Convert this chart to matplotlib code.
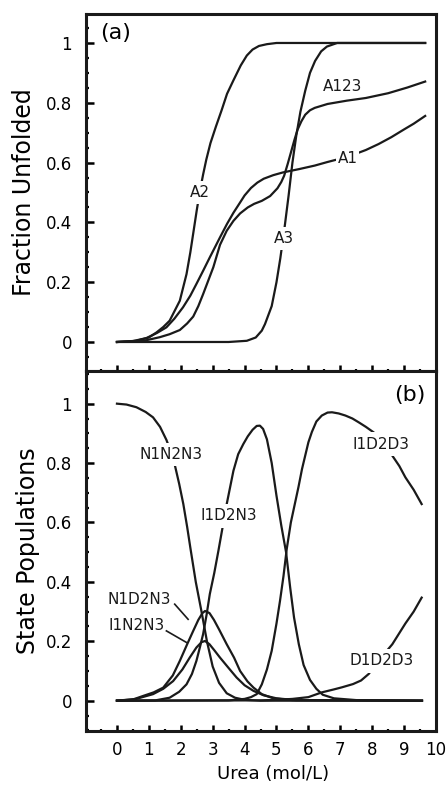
import numpy as np
import matplotlib
matplotlib.use('Agg')
import matplotlib.pyplot as plt
from matplotlib.ticker import MultipleLocator, FuncFormatter

plt.rcParams['font.family'] = ['DejaVu Sans']

# ---- panel (a): fraction unfolded ----
a2_x = [0, 0.61, 1.0, 1.24, 1.45, 1.65, 1.97, 2.18, 2.3, 2.4, 2.5, 2.6, 2.7, 2.8, 2.93, 3.1, 3.28, 3.45, 3.65, 3.88,
        4.07, 4.25, 4.45, 4.7, 5.0, 9.66]
a2_y = [0, 0.004, 0.015, 0.032, 0.05, 0.071, 0.138, 0.227, 0.3, 0.37, 0.44, 0.505, 0.56, 0.61, 0.665, 0.72, 0.775,
        0.83, 0.875, 0.925, 0.958, 0.978, 0.99, 0.996, 1.0, 1.0]

a1_x = [0, 0.5, 0.92, 1.25, 1.55, 1.8, 2.07, 2.3, 2.49, 2.7, 2.91, 3.23, 3.45, 3.65, 3.85, 4.0, 4.2, 4.4, 4.6, 4.9,
        5.2, 5.7, 6.2, 6.6, 7.0, 7.4, 7.8, 8.2, 8.6, 9.0, 9.3, 9.66]
a1_y = [0, 0.003, 0.013, 0.03, 0.049, 0.078, 0.116, 0.155, 0.194, 0.238, 0.283, 0.35, 0.395, 0.432, 0.465, 0.49, 0.515,
        0.533, 0.546, 0.558, 0.567, 0.578, 0.59, 0.602, 0.613, 0.626, 0.642, 0.662, 0.685, 0.711, 0.73, 0.756]

a123_x = [0, 0.8, 1.34, 1.65, 1.97, 2.2, 2.39, 2.55, 2.70, 2.86, 3.02, 3.23, 3.44, 3.65, 3.86, 4.1, 4.3, 4.54, 4.8,
          5.03, 5.15, 5.24, 5.35, 5.45, 5.56, 5.66, 5.78, 5.9, 6.05, 6.2, 6.6, 7.2, 7.8, 8.5, 9.1, 9.66]
a123_y = [0, 0.003, 0.016, 0.026, 0.04, 0.062, 0.085, 0.12, 0.16, 0.205, 0.25, 0.325, 0.372, 0.405, 0.43, 0.45, 0.462,
          0.472, 0.488, 0.514, 0.535, 0.556, 0.595, 0.633, 0.675, 0.71, 0.738, 0.76, 0.775, 0.783, 0.796, 0.807, 0.816,
          0.832, 0.851, 0.871]

a3_x = [0, 3.5, 4.07, 4.35, 4.54, 4.64, 4.85, 5.0, 5.12, 5.25, 5.38, 5.5, 5.62, 5.75, 5.9, 6.05, 6.21, 6.4, 6.58, 6.9, 9.66]
a3_y = [0, 0, 0.004, 0.015, 0.038, 0.06, 0.12, 0.2, 0.28, 0.38, 0.49, 0.6, 0.69, 0.77, 0.84, 0.9, 0.94, 0.972, 0.988, 1.0, 1.0]

# ---- panel (b): state populations ----
n1n2n3_x = [0, 0.3, 0.61, 0.9, 1.13, 1.35, 1.55, 1.7, 1.81, 1.95, 2.08, 2.2, 2.3, 2.47, 2.65, 2.82, 3.0, 3.2, 3.44,
            3.7, 4.0, 4.5, 9.56]
n1n2n3_y = [1.0, 0.997, 0.988, 0.972, 0.954, 0.922, 0.878, 0.835, 0.795, 0.73, 0.662, 0.585, 0.515, 0.4, 0.3, 0.2,
            0.115, 0.06, 0.025, 0.01, 0.003, 0, 0]

i1d2n3_x = [0, 1.2, 1.65, 1.95, 2.18, 2.35, 2.49, 2.6, 2.70, 2.81, 2.91, 3.05, 3.18, 3.44, 3.65, 3.8, 3.96, 4.1, 4.25,
            4.38, 4.48, 4.58, 4.7, 4.85, 5.0, 5.15, 5.3, 5.43, 5.55, 5.7, 5.85, 6.05, 6.25, 6.45, 6.8, 7.5, 9.56]
i1d2n3_y = [0, 0.001, 0.01, 0.03, 0.055, 0.09, 0.134, 0.18, 0.224, 0.29, 0.359, 0.43, 0.505, 0.662, 0.774, 0.83, 0.864,
            0.89, 0.912, 0.925, 0.926, 0.915, 0.88, 0.8, 0.69, 0.59, 0.5, 0.38, 0.28, 0.19, 0.12, 0.07, 0.04, 0.02,
            0.008, 0.002, 0]

n1d2n3_x = [0, 0.5, 0.82, 1.15, 1.45, 1.75, 1.97, 2.2, 2.39, 2.55, 2.68, 2.76, 2.9, 3.04, 3.2, 3.44, 3.67, 3.86, 4.09,
            4.28, 4.54, 4.9, 5.5, 9.56]
n1d2n3_y = [0, 0.004, 0.016, 0.028, 0.044, 0.085, 0.134, 0.19, 0.235, 0.272, 0.295, 0.302, 0.295, 0.272, 0.24, 0.19,
            0.145, 0.10, 0.065, 0.044, 0.022, 0.008, 0.002, 0]

i1n2n3_x = [0, 0.6, 1.13, 1.45, 1.76, 2.05, 2.28, 2.49, 2.65, 2.76, 2.9, 3.05, 3.23, 3.5, 3.75, 4.0, 4.28, 4.6, 5.0,
            5.6, 9.56]
i1n2n3_y = [0, 0.006, 0.022, 0.04, 0.066, 0.105, 0.145, 0.179, 0.197, 0.201, 0.19, 0.17, 0.145, 0.11, 0.078, 0.052,
            0.033, 0.018, 0.008, 0.002, 0]

i1d2d3_x = [0, 3.5, 4.0, 4.2, 4.38, 4.54, 4.7, 4.85, 5.0, 5.11, 5.22, 5.32, 5.45, 5.57, 5.69, 5.8, 5.9, 6.0, 6.11,
            6.25, 6.42, 6.6, 6.74, 6.95, 7.16, 7.38, 7.58, 7.8, 8.05, 8.3, 8.63, 8.85, 9.04, 9.3, 9.55]
i1d2d3_y = [0, 0.001, 0.006, 0.012, 0.022, 0.055, 0.105, 0.168, 0.26, 0.336, 0.42, 0.51, 0.6, 0.66, 0.72, 0.78, 0.825,
            0.87, 0.905, 0.94, 0.96, 0.97, 0.971, 0.967, 0.96, 0.95, 0.937, 0.922, 0.903, 0.87, 0.825, 0.79, 0.752,
            0.71, 0.662]

d1d2d3_x = [0, 4.5, 5.0, 5.5, 6.0, 6.42, 6.8, 7.05, 7.4, 7.65, 7.89, 8.2, 8.63, 9.04, 9.3, 9.55]
d1d2d3_y = [0, 0.001, 0.003, 0.006, 0.012, 0.028, 0.038, 0.045, 0.056, 0.068, 0.09, 0.135, 0.19, 0.26, 0.3, 0.347]

x_ticks = [0, 1, 2, 3, 4, 5, 6, 7, 8, 9, 10]
y_ticks = [0, 0.2, 0.4, 0.6, 0.8, 1]

fig = plt.figure(figsize=(4.48, 7.85), dpi=100)
ax_a = fig.add_axes([0.1920, 0.5274, 0.78125, 0.4548])
ax_b = fig.add_axes([0.1920, 0.0688, 0.78125, 0.4586])

lw = 1.6
for xs, ys in [(a2_x, a2_y), (a1_x, a1_y), (a123_x, a123_y), (a3_x, a3_y)]:
    ax_a.plot(xs, ys, color='#1a1a1a', lw=lw, solid_joinstyle='round', zorder=2)
for xs, ys in [(n1n2n3_x, n1n2n3_y), (i1d2n3_x, i1d2n3_y), (n1d2n3_x, n1d2n3_y), (i1n2n3_x, i1n2n3_y),
               (i1d2d3_x, i1d2d3_y), (d1d2d3_x, d1d2d3_y)]:
    ax_b.plot(xs, ys, color='#1a1a1a', lw=lw, solid_joinstyle='round', zorder=2)

fmt = FuncFormatter(lambda v, p: '%g' % round(v, 2))
for ax, ylo, yhi in [(ax_a, -0.097, 1.097), (ax_b, -0.102, 1.11)]:
    ax.set_xlim(-0.97, 10.0)
    ax.set_ylim(ylo, yhi)
    ax.set_yticks(y_ticks)
    ax.yaxis.set_major_formatter(fmt)
    ax.yaxis.set_minor_locator(MultipleLocator(0.05))
    ax.set_xticks(x_ticks)
    ax.xaxis.set_minor_locator(MultipleLocator(0.5))
    ax.tick_params(axis='y', which='major', direction='in', length=6, width=1.8, pad=10, labelsize=12)
    ax.tick_params(axis='y', which='minor', direction='in', length=1.8, width=1.6)
    ax.tick_params(axis='x', which='major', direction='in', length=4.5, width=1.8, pad=7, labelsize=12)
    ax.tick_params(axis='x', which='minor', direction='in', length=1.8, width=1.6)
    for s in ax.spines.values():
        s.set_linewidth(2.2)
        s.set_color('#1a1a1a')
ax_a.tick_params(axis='x', labelbottom=False)

lab = dict(fontsize=11, color='#1a1a1a', ha='center', va='center', zorder=5)
box = dict(facecolor='white', edgecolor='none', pad=3)
ax_a.text(2.59, 0.50, 'A2', bbox=box, **lab)
ax_a.text(5.24, 0.347, 'A3', bbox=box, **lab)
ax_a.text(7.23, 0.614, 'A1', bbox=dict(facecolor='white', edgecolor='none', pad=1), **lab)
ax_a.text(7.07, 0.856, 'A123', **lab)
ax_a.text(0.083, 0.947, '(a)', transform=ax_a.transAxes, fontsize=16, ha='center', va='center')

ax_b.text(1.71, 0.83, 'N1N2N3', bbox=box, **lab)
ax_b.text(3.49, 0.622, 'I1D2N3', bbox=box, **lab)
ax_b.text(8.26, 0.864, 'I1D2D3', bbox=box, **lab)
ax_b.text(8.31, 0.134, 'D1D2D3', bbox=box, **lab)
ax_b.text(0.71, 0.342, 'N1D2N3', **lab)
ax_b.text(0.61, 0.252, 'I1N2N3', **lab)
ax_b.plot([1.81, 2.23], [0.325, 0.274], color='#1a1a1a', lw=1.2)
ax_b.plot([1.55, 2.18], [0.235, 0.196], color='#1a1a1a', lw=1.2)
ax_b.text(0.926, 0.933, '(b)', transform=ax_b.transAxes, fontsize=16, ha='center', va='center')

fig.text(24 / 448, 1 - 192.5 / 785, 'Fraction Unfolded', rotation=90, ha='center', va='center', fontsize=17)
fig.text(28 / 448, 1 - 551 / 785, 'State Populations', rotation=90, ha='center', va='center', fontsize=17)
fig.text(273 / 448, 1 - 774 / 785, 'Urea (mol/L)', ha='center', va='center', fontsize=13)

fig.savefig('out.png', dpi=100)
